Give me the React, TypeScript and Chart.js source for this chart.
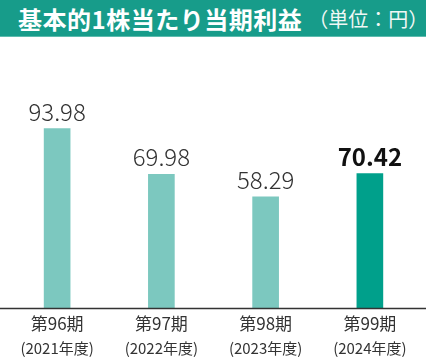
import React, { useEffect, useRef } from "react";
import { Chart, registerables } from "chart.js";

Chart.register(...registerables);

const periods = ["第96期", "第97期", "第98期", "第99期"];
const years = ["(2021年度)", "(2022年度)", "(2023年度)", "(2024年度)"];
const eps = [93.98, 69.98, 58.29, 70.42];
const barColors = ["#7cc8bf", "#7cc8bf", "#7cc8bf", "#00a08b"];
const labelBold = [false, false, false, true];

const FONT = "'Noto Sans CJK JP', 'Noto Sans', sans-serif";

export default function App() {
  const ref = useRef<HTMLCanvasElement | null>(null);

  useEffect(() => {
    document.body.style.margin = "0";
    const canvas = ref.current;
    if (!canvas) return;

    const valuePlugin = {
      id: "valueLabels",
      afterDatasetsDraw(chart: any) {
        const ctx = chart.ctx;
        const meta = chart.getDatasetMeta(0);
        ctx.save();
        ctx.textAlign = "center";
        ctx.textBaseline = "alphabetic";
        meta.data.forEach((bar: any, i: number) => {
          ctx.font = (labelBold[i] ? "bold " : "300 ") + "24px " + FONT;
          ctx.fillStyle = labelBold[i] ? "#111111" : "#333333";
          ctx.fillText(eps[i].toFixed(2), bar.x, bar.y - 8);
        });
        ctx.restore();
      },
      afterDraw(chart: any) {
        const ctx = chart.ctx;
        const y = Math.round(chart.scales.y.getPixelForValue(0)) + 0.5;
        ctx.save();
        ctx.strokeStyle = "#333333";
        ctx.lineWidth = 1.5;
        ctx.beginPath();
        ctx.moveTo(0, y);
        ctx.lineTo(chart.width, y);
        ctx.stroke();
        ctx.restore();
      },
    };

    const chart = new Chart(canvas, {
      type: "bar",
      data: {
        labels: periods,
        datasets: [
          {
            data: eps,
            backgroundColor: barColors,
            barThickness: 26,
            borderWidth: 0,
          },
        ],
      },
      options: {
        animation: false,
        responsive: false,
        maintainAspectRatio: false,
        layout: { padding: { top: 80, left: 5, right: 4, bottom: 1 } },
        plugins: {
          legend: { display: false },
          tooltip: { enabled: false },
        },
        scales: {
          x: {
            grid: { display: false, drawTicks: false },
            border: { display: false },
            ticks: {
              color: "#333333",
              padding: 5,
              maxRotation: 0,
              font: { family: FONT, size: 17, lineHeight: 1.2 },
            },
          },
          x2: {
            type: "category",
            position: "bottom",
            labels: years,
            offset: true,
            grid: { display: false, drawTicks: false },
            border: { display: false },
            ticks: {
              color: "#333333",
              padding: 2,
              maxRotation: 0,
              font: { family: FONT, size: 15, lineHeight: 1.1 },
            },
          },
          y: {
            display: false,
            min: 0,
            max: 100,
          },
        },
      },
      plugins: [valuePlugin],
    });
    return () => chart.destroy();
  }, []);

  return (
    <div style={{ width: 426, height: 360, background: "#ffffff", overflow: "hidden" }}>
      <div
        style={{
          height: 37,
          background: "#179c8a",
          borderBottom: "1px solid #5dbbae",
          boxSizing: "border-box",
          display: "flex",
          alignItems: "center",
          paddingLeft: 18,
          fontFamily: FONT,
          color: "#ffffff",
          whiteSpace: "nowrap",
        }}
      >
        <span style={{ fontSize: 24, fontWeight: 700, letterSpacing: 0.5 }}>基本的1株当たり当期利益</span>
        <span style={{ fontSize: 20, fontWeight: 400, marginLeft: 6, color: "#f0f7f5" }}>（単位：円）</span>
      </div>
      <canvas ref={ref} width={426} height={323} style={{ display: "block" }} />
    </div>
  );
}
